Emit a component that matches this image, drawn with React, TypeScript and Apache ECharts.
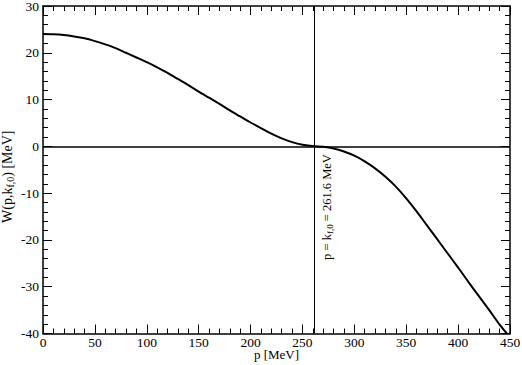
import React, { useEffect, useRef } from "react";
import * as echarts from "echarts";

const pValues = [0, 10, 20, 30, 40, 50, 60, 70, 80, 90, 100, 110, 120, 130, 140, 150, 160, 170, 180, 190, 200, 210, 220, 230, 240, 250, 261.6, 270, 280, 290, 300, 310, 320, 330, 340, 350, 360, 370, 380, 390, 400, 410, 420, 430, 440, 447];
const wValues = [24.0, 23.95, 23.8, 23.5, 23.1, 22.5, 21.8, 21.0, 20.0, 19.0, 18.0, 16.9, 15.7, 14.4, 13.1, 11.7, 10.4, 9.1, 7.7, 6.4, 5.1, 3.9, 2.7, 1.7, 0.9, 0.35, 0, -0.1, -0.45, -1.1, -2.0, -3.2, -4.7, -6.5, -8.6, -11.1, -13.9, -16.9, -19.9, -22.9, -25.9, -29.0, -32.0, -35.0, -38.1, -40.0];
const kF0 = 261.6;
const xTicks = { min: 0, max: 450, interval: 50 };
const yTicks = { min: -40, max: 30, interval: 10 };

const FONT = "Liberation Serif";

export default function App() {
  const ref = useRef<HTMLDivElement>(null);
  useEffect(() => {
    if (!ref.current) return;
    const chart = echarts.init(ref.current, null, { renderer: "svg" });
    const axisCommon = {
      axisLine: { onZero: false, lineStyle: { color: "#000", width: 1.5 } },
      axisTick: { inside: true, length: 9, lineStyle: { color: "#000", width: 1 } },
      minorTick: { show: true, splitNumber: 5, length: 5, lineStyle: { color: "#000", width: 1 } },
      splitLine: { show: false },
    };
    chart.setOption({
      animation: false,
      backgroundColor: "#fff",
      textStyle: { fontFamily: FONT },
      grid: { left: 43, right: 12, top: 6, bottom: 31.5, containLabel: false, outerBoundsMode: "none" },
      xAxis: [
        {
          type: "value",
          ...xTicks,
          position: "bottom",
          ...axisCommon,
          axisLabel: { color: "#000", fontFamily: FONT, fontSize: 13.5, margin: 2 },
          name: "p [MeV]",
          nameLocation: "middle",
          nameGap: 14,
          nameMoveOverlap: false,
          nameTextStyle: { color: "#000", fontFamily: FONT, fontSize: 13 },
        },
        {
          type: "value",
          ...xTicks,
          position: "top",
          ...axisCommon,
          axisLabel: { show: false },
        },
      ],
      yAxis: [
        {
          type: "value",
          ...yTicks,
          position: "left",
          ...axisCommon,
          axisLabel: { color: "#000", fontFamily: FONT, fontSize: 13.5, margin: 4 },
          name: "W(p,k{sub|f,0}) [MeV]",
          nameLocation: "middle",
          nameGap: 28,
          nameRotate: 90,
          nameMoveOverlap: false,
          nameTextStyle: {
            color: "#000",
            fontFamily: FONT,
            fontSize: 14,
            padding: [0, 14, 0, 0],
            rich: {
              sub: { fontFamily: FONT, fontSize: 10, color: "#000", padding: [6, 0, 0, 0] },
            },
          },
        },
        {
          type: "value",
          ...yTicks,
          position: "right",
          ...axisCommon,
          axisLabel: { show: false },
        },
      ],
      series: [
        {
          type: "line",
          data: pValues.map((p, i) => [p, wValues[i]]),
          showSymbol: false,
          smooth: 0.3,
          lineStyle: { color: "#000", width: 2 },
          markLine: {
            silent: true,
            symbol: "none",
            label: { show: false },
            data: [
              { yAxis: 0, lineStyle: { color: "#000", width: 1.5, type: "solid" } },
              { xAxis: kF0, lineStyle: { color: "#000", width: 1, type: "solid" } },
            ],
          },
        },
      ],
      graphic: [
        {
          type: "text",
          x: 327,
          y: 207,
          rotation: Math.PI / 2,
          style: {
            text: "p = k{sub|f,0} = 261.6 MeV",
            fill: "#000",
            fontFamily: FONT,
            fontSize: 12.5,
            align: "center",
            verticalAlign: "middle",
            rich: {
              sub: { fontFamily: FONT, fontSize: 9, fill: "#000", padding: [6, 0, 0, 0] },
            },
          },
        },
      ],
    });
    return () => chart.dispose();
  }, []);
  return <div ref={ref} style={{ width: 522, height: 365, position: "absolute", left: 0, top: 0 }} />;
}
